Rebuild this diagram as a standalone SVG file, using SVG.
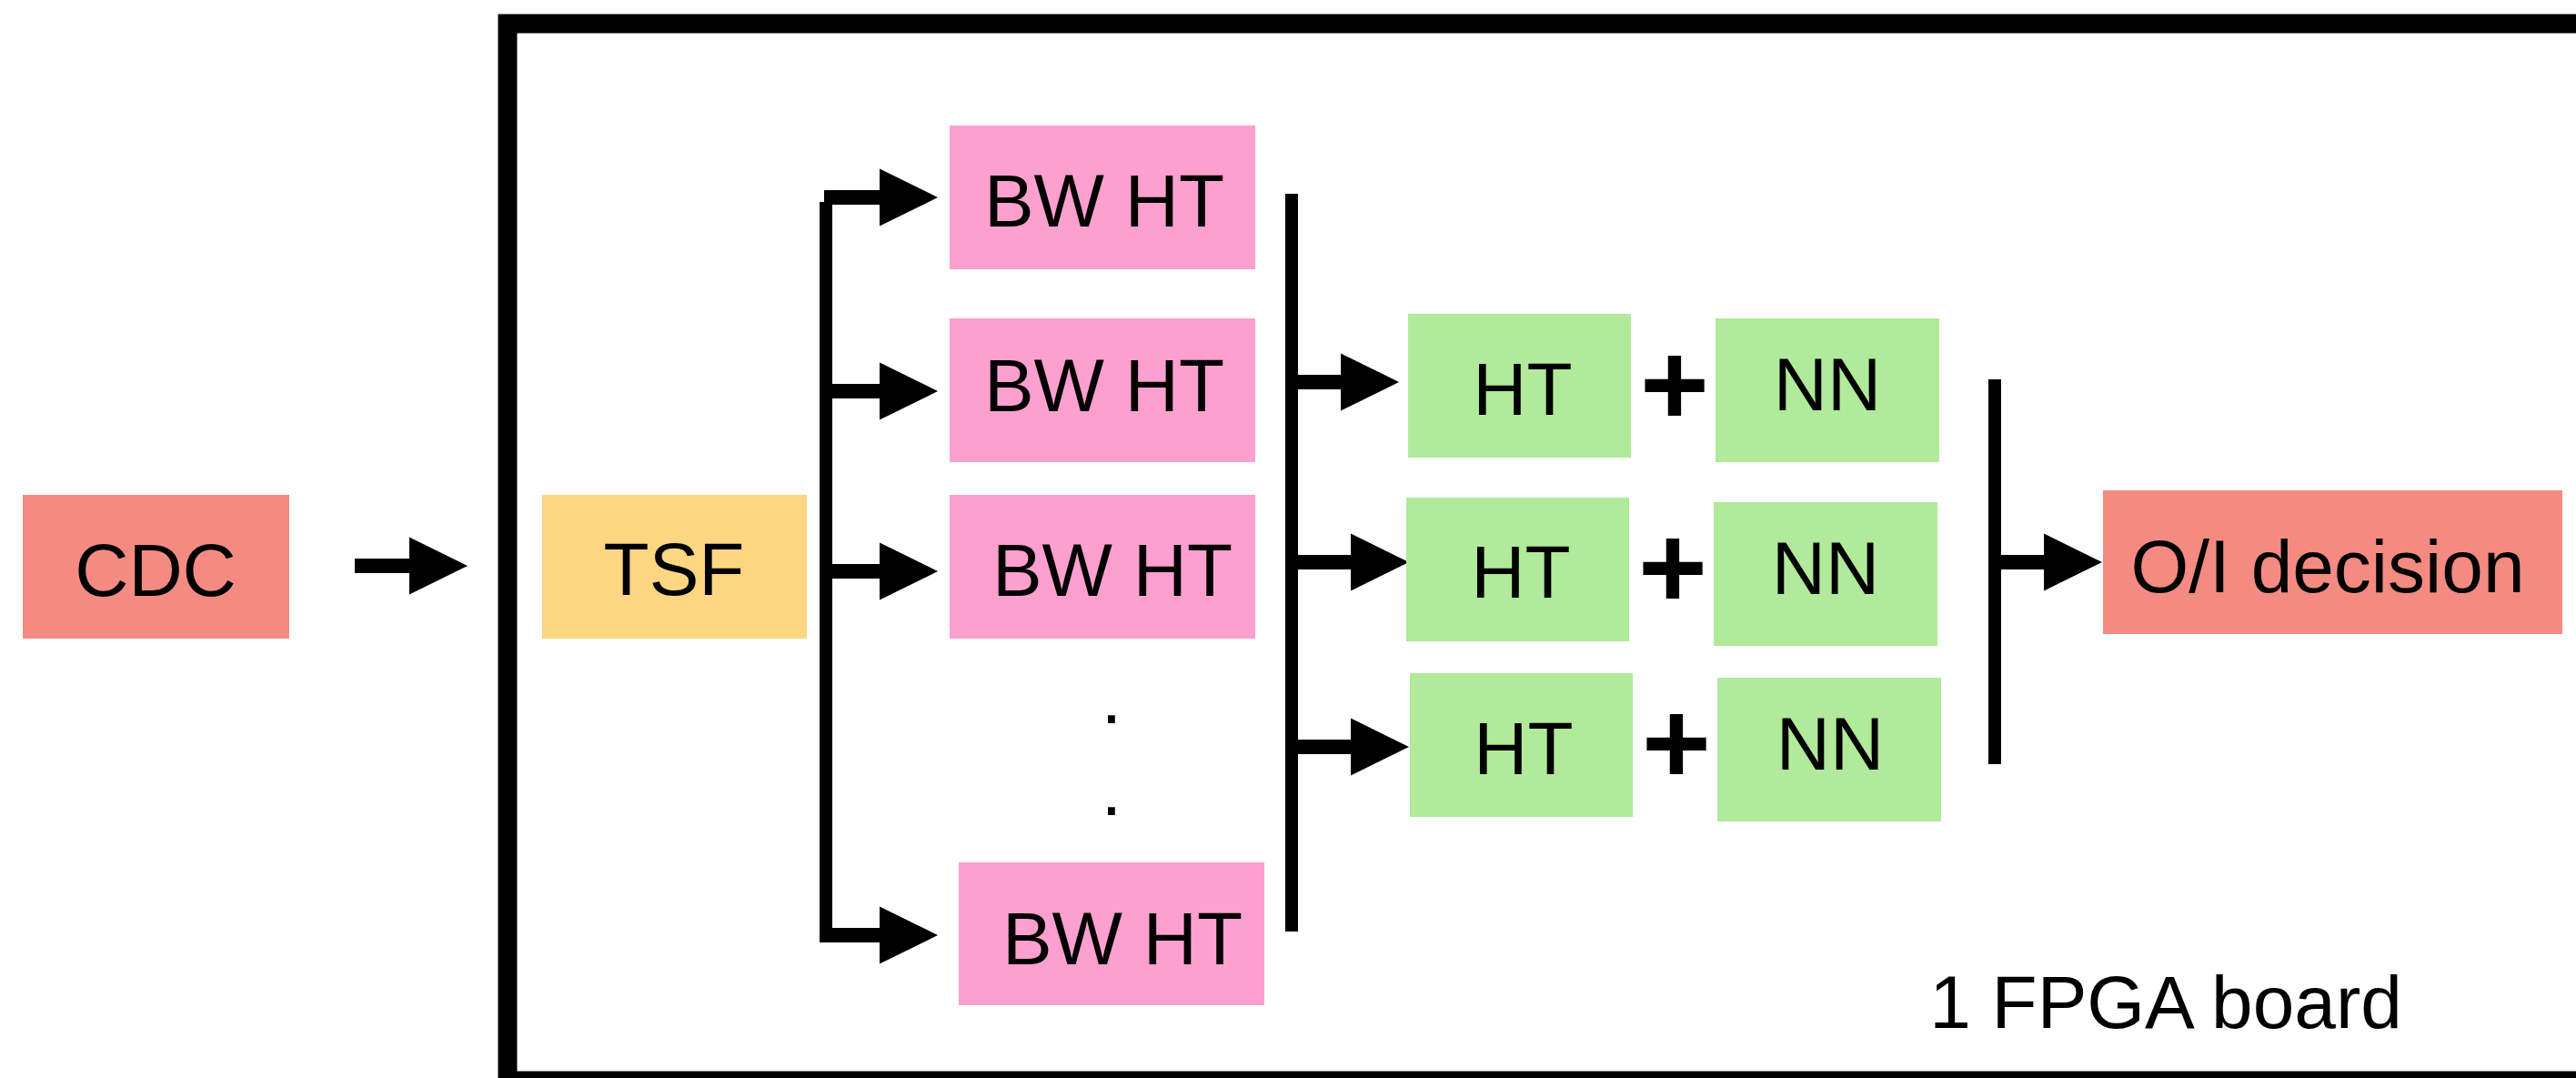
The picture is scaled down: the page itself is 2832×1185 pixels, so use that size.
<svg xmlns="http://www.w3.org/2000/svg" width="2832" height="1185" viewBox="0 0 2832 1185">
<style>
.lbl{font-family:"Liberation Sans",Arial,Helvetica,sans-serif;font-size:82px;fill:#000;text-anchor:middle}
.plus{font-family:"Liberation Sans",Arial,Helvetica,sans-serif;font-size:130px;font-weight:bold;fill:#000;text-anchor:middle}
.red{fill:#F48B83}
.yel{fill:#FCD682}
.pink{fill:#FDA0CF}
.grn{fill:#B1EA9A}
.bus{stroke:#000;stroke-width:14;fill:none}
.arr{stroke:#000;stroke-width:16;fill:none;marker-end:url(#ah)}
</style>
<defs>
<marker id="ah" markerUnits="userSpaceOnUse" markerWidth="64" markerHeight="64" viewBox="0 0 64 64" refX="2" refY="32" orient="auto" overflow="visible">
<path d="M0,0.5 L64,32 L0,63.5 Z" fill="#000"/>
</marker>
</defs>
<rect width="2832" height="1185" fill="#fff"/>
<g id="fpga-board">
<rect x="558" y="26" width="2300" height="1162" fill="none" stroke="#000" stroke-width="21"/>
<text class="lbl" x="2381" y="1130">1 FPGA board</text>
</g>
<g id="connectors">
<line class="arr" x1="390" y1="622" x2="452" y2="622"/>
<line class="bus" x1="908" y1="222" x2="908" y2="1036"/>
<line class="arr" x1="906" y1="217" x2="969" y2="217"/>
<line class="arr" x1="908" y1="430" x2="969" y2="430"/>
<line class="arr" x1="908" y1="628" x2="969" y2="628"/>
<line class="arr" x1="907" y1="1028" x2="969" y2="1028"/>
<line class="bus" x1="1420" y1="213" x2="1420" y2="1024"/>
<line class="arr" x1="1420" y1="420" x2="1476" y2="420"/>
<line class="arr" x1="1420" y1="618" x2="1487" y2="618"/>
<line class="arr" x1="1420" y1="821" x2="1487" y2="821"/>
<line class="bus" x1="2193" y1="417" x2="2193" y2="840"/>
<line class="arr" x1="2193" y1="618" x2="2249" y2="618"/>
</g>
<g id="cdc"><rect class="red" x="25" y="544" width="293" height="158"/><text class="lbl" x="171" y="655">CDC</text></g>
<g id="tsf"><rect class="yel" x="596" y="544" width="291" height="158"/><text class="lbl" x="741" y="654">TSF</text></g>
<g id="bwht1"><rect class="pink" x="1044" y="138" width="336" height="158"/><text class="lbl" x="1214" y="249">BW HT</text></g>
<g id="bwht2"><rect class="pink" x="1044" y="350" width="336" height="158"/><text class="lbl" x="1214" y="452">BW HT</text></g>
<g id="bwht3"><rect class="pink" x="1044" y="544" width="336" height="158"/><text class="lbl" x="1223" y="655">BW HT</text></g>
<g id="dots"><text class="lbl" x="1222" y="795">.</text><text class="lbl" x="1222" y="896">.</text></g>
<g id="bwht4"><rect class="pink" x="1054" y="948" width="336" height="157"/><text class="lbl" x="1234" y="1060">BW HT</text></g>
<g id="ht1"><rect class="grn" x="1548" y="345" width="245" height="158"/><text class="lbl" x="1674" y="456">HT</text></g>
<g id="ht2"><rect class="grn" x="1546" y="547" width="245" height="158"/><text class="lbl" x="1672" y="657">HT</text></g>
<g id="ht3"><rect class="grn" x="1550" y="740" width="245" height="158"/><text class="lbl" x="1675" y="851">HT</text></g>
<g id="plus1"><text class="plus" x="1841" y="467">+</text></g>
<g id="plus2"><text class="plus" x="1839" y="668">+</text></g>
<g id="plus3"><text class="plus" x="1843" y="861">+</text></g>
<g id="nn1"><rect class="grn" x="1886" y="350" width="246" height="158"/><text class="lbl" x="2009" y="451">NN</text></g>
<g id="nn2"><rect class="grn" x="1884" y="552" width="246" height="158"/><text class="lbl" x="2007" y="653">NN</text></g>
<g id="nn3"><rect class="grn" x="1888" y="745" width="246" height="158"/><text class="lbl" x="2012" y="846">NN</text></g>
<g id="oi-decision"><rect class="red" x="2312" y="539" width="505" height="158"/><text class="lbl" x="2559" y="651">O/I decision</text></g>
</svg>
